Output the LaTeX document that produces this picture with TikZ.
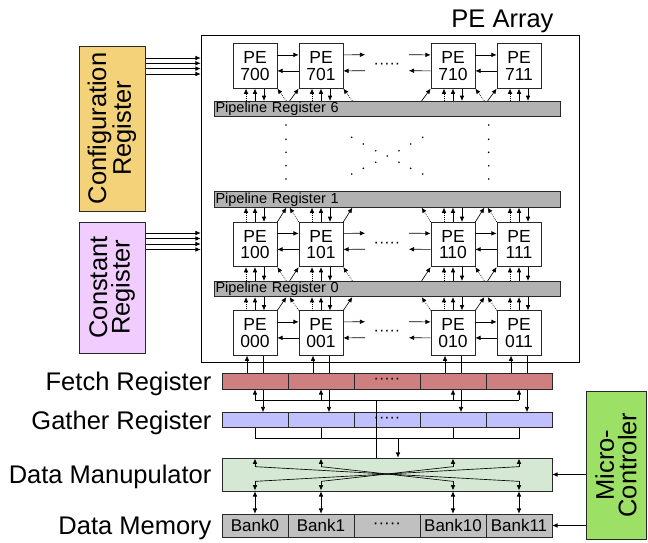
\documentclass[tikz,border=0pt]{standalone}
\usepackage{fontspec}
\setmainfont{Liberation Sans}
\usetikzlibrary{arrows.meta,backgrounds,calc}
\definecolor{cfgcol}{RGB}{243,210,122}
\definecolor{constcol}{RGB}{240,204,255}
\definecolor{fetchcol}{RGB}{207,127,127}
\definecolor{gathcol}{RGB}{192,192,255}
\definecolor{dmcol}{RGB}{213,232,212}
\definecolor{memcol}{RGB}{192,192,192}
\definecolor{pregcol}{RGB}{178,178,178}
\definecolor{microcol}{RGB}{156,224,102}
\definecolor{edge}{RGB}{40,40,40}
\begin{document}
\begin{tikzpicture}[x=1pt,y=-1pt,
  arr/.style={-{Latex[length=5.2pt,width=4.6pt]},line width=0.65pt},
  darr/.style={{Latex[length=5.2pt,width=4.6pt]}-{Latex[length=5.2pt,width=4.6pt]},line width=0.65pt},
  dotshaft/.style={dash pattern=on 0.8pt off 1.2pt},
  pe/.style={draw=edge,line width=0.7pt,fill=white,minimum width=44pt,minimum height=44.5pt,inner sep=0pt,align=center,font=\fontsize{17.5}{16.5}\selectfont},
  preg/.style={draw=edge,line width=0.7pt,fill=pregcol,minimum width=346pt,minimum height=15.5pt,inner xsep=1.5pt,inner ysep=0pt,text width=343pt,align=left,font=\fontsize{14.5}{14}\selectfont},
  cell/.style={draw=edge,line width=0.7pt,minimum width=66pt,inner sep=0pt},
  big/.style={font=\fontsize{25.5}{22.5}\selectfont},
  vbox/.style={draw=edge,line width=1pt,inner sep=0pt,align=center,rotate=90,big},
  pt/.style={inner sep=0pt,minimum size=0pt}
]
\useasboundingbox (0,0) rectangle (648,542);

% PE array frame and label
\node[draw=black,line width=0.7pt,minimum width=378pt,minimum height=327pt,inner sep=0pt] (pea) at (390,198.5) {};
\node[big,anchor=base east] (pelbl) at (557,27) {PE Array};

% side registers
\node[vbox,fill=cfgcol,minimum width=165pt,minimum height=66pt] (cfg) at (112,128.5) {Configuration\\Register};
\node[vbox,fill=constcol,minimum width=131pt,minimum height=66pt] (cst) at (112,287.5) {Constant\\Register};
\node[vbox,fill=microcol,minimum width=148pt,minimum height=60pt] (mc) at (616,465) {Micro-\\Controler};

\foreach \yy in {58,63.3,68.6,74}
  \draw[arr] (cfg.south |- 0,\yy) -- (pea.west |- 0,\yy);
\foreach \yy in {233,238.5,244,249.5}
  \draw[arr] (cst.south |- 0,\yy) -- (pea.west |- 0,\yy);

% pipeline registers
\node[preg] (reg6) at (387,109) {Pipeline Register 6};
\node[preg] (reg1) at (387,199.5) {Pipeline Register 1};
\node[preg] (reg0) at (387,289) {Pipeline Register 0};

% PE rows
\foreach \rr/\yy in {7/66,1/244.5,0/333}{
  \foreach \cc/\xx in {00/255,01/321,10/453,11/519}{
    \node[pe] (pe\rr\cc) at (\xx,\yy) {PE\\\rr\cc};
  }
  \node[pt] (da\rr) at ($(pe\rr01.north east)+(22,0)$) {};
  \node[pt] (db\rr) at ($(pe\rr10.north west)+(-22,0)$) {};
  \node[font=\fontsize{16}{16}\selectfont,inner sep=0pt] (dots\rr) at ($(pe\rr01.east)!0.5!(pe\rr10.west)$) {·····};
  \foreach \ua/\ub in {pe\rr00/pe\rr01, pe\rr10/pe\rr11, pe\rr01/da\rr, db\rr/pe\rr10}{
    \draw[arr] ($(\ua.north east)+(0,11.5)$) -- ($(\ub.north west)+(0,11.5)$);
    \draw[arr] ($(\ub.north west)+(0,27.5)$) -- ($(\ua.north east)+(0,27.5)$);
  }
}

% PE row above a register
\foreach \rr/\rg in {7/reg6,1/reg0}{
  \foreach \cc in {00,01,10,11}{
    \draw[arr,dotshaft] ($(pe\rr\cc.south |- \rg.north)+(-9,0)$) -- ($(pe\rr\cc.south)+(-9,0)$);
    \draw[arr] (pe\rr\cc.south |- \rg.north) -- (pe\rr\cc.south);
    \draw[arr] ($(pe\rr\cc.south)+(9,0)$) -- ($(pe\rr\cc.south |- \rg.north)+(9,0)$);
  }
  \foreach \ua/\ub in {00/01,01/10,10/11}{
    \draw[arr,dotshaft] ($(pe\rr\ua.south east |- \rg.north)+(9,0)$) -- (pe\rr\ua.south east);
    \draw[arr] ($(pe\rr\ub.south west |- \rg.north)+(-9,0)$) -- (pe\rr\ub.south west);
  }
}
% PE row below a register
\foreach \rr/\rg in {1/reg1,0/reg0}{
  \foreach \cc in {00,01,10,11}{
    \draw[arr,dotshaft] ($(pe\rr\cc.north)+(-9,0)$) -- ($(pe\rr\cc.north |- \rg.south)+(-9,0)$);
    \draw[arr] (pe\rr\cc.north) -- (pe\rr\cc.north |- \rg.south);
    \draw[arr] ($(pe\rr\cc.north |- \rg.south)+(9,0)$) -- ($(pe\rr\cc.north)+(9,0)$);
  }
  \foreach \ua/\ub in {00/01,01/10,10/11}{
    \draw[arr] (pe\rr\ua.north east) -- ($(pe\rr\ua.north east |- \rg.south)+(9,0)$);
    \draw[arr,dotshaft] (pe\rr\ub.north west) -- ($(pe\rr\ub.north west |- \rg.south)+(-9,0)$);
  }
}

% dots between register 6 and register 1
\foreach \p in {(286,125),(286,139.3),(286,152.3),(286,165.7),(286,179),
  (488.7,125),(488.7,139.3),(488.7,152.3),(488.7,165.7),(488.7,179),
  (351.7,137.3),(422.7,137.3),(363.3,144),(410.7,144),(375.7,150.7),(399,150.7),
  (387.3,156),(375.7,162.3),(399,162.3),(363.3,168.3),(410.7,168.3),(351.7,174),(422.7,174)}
  \fill \p circle (0.9);

% fetch / gather / memory cells
\foreach \i/\xx in {0/255,1/321,2/387,3/453,4/519}{
  \node[cell,fill=fetchcol,minimum height=16pt] (f\i) at (\xx,381) {};
  \node[cell,fill=gathcol,minimum height=15pt] (g\i) at (\xx,420) {};
}
\node[font=\fontsize{16}{16}\selectfont,inner sep=0pt] (fdots) at (f2.center) {·····};
\node[font=\fontsize{16}{16}\selectfont,inner sep=0pt] (gdots) at (g2.center) {·····};
\node[draw=edge,line width=0.7pt,fill=dmcol,minimum width=330pt,minimum height=33pt,inner sep=0pt] (dm) at (387,474.5) {};
\foreach \i/\xx/\tt in {0/255/Bank0,1/321/Bank1,2/387/·····,3/453/Bank10,4/519/Bank11}{
  \node[cell,fill=memcol,minimum height=23pt,font=\fontsize{17}{16}\selectfont] (m\i) at (\xx,525.5) {\tt};
}

% left labels
\node[big,anchor=base east] (lf) at (215,390) {Fetch Register};
\node[big,anchor=base east] (lg) at (215,429) {Gather Register};
\node[big,anchor=base east] (ld) at (215,483) {Data Manupulator};
\node[big,anchor=base east] (lm) at (215,534) {Data Memory};

% PE row 0 to fetch / gather
\begin{scope}[on background layer]
\foreach \cc/\i in {00/0,01/1,10/3,11/4}
  \draw[arr] ($(pe0\cc.south)+(8,0)$) -- ($(pe0\cc.south |- g\i.north)+(8,0)$);
\end{scope}
\foreach \cc/\i in {00/0,01/1,10/3,11/4}
  \draw[arr] ($(pe0\cc.south |- f\i.north)+(-8,0)$) -- ($(pe0\cc.south)+(-8,0)$);

% fetch bus
\coordinate (fbus) at (376,400);
\draw[line width=0.65pt] (f0.south |- fbus) -- (f4.south |- fbus);
\foreach \i in {0,1,3,4} \draw[arr] (f\i.south |- fbus) -- (f\i.south);
\draw[line width=0.65pt] (fbus) -- (fbus |- dm.north);

% gather bus
\coordinate (gbus) at (398,438);
\draw[line width=0.65pt] (g0.south) -- (g0.south |- gbus) -- (g4.south |- gbus) -- (g4.south);
\draw[line width=0.65pt] (g1.south) -- (g1.south |- gbus);
\draw[line width=0.65pt] (g3.south) -- (g3.south |- gbus);
\draw[arr] (gbus) -- (gbus |- dm.north);

% data manipulator crossbar
\coordinate (xc) at (387,474);
\foreach \i in {0,1,3,4}{
  \coordinate (dt\i) at ($(dm.north -| m\i.north)+(0,9)$);
  \coordinate (dbm\i) at ($(dm.south -| m\i.north)+(0,-10)$);
  \draw[arr] (dt\i) -- ($(dm.north -| m\i.north)+(0,1)$);
  \draw[arr] (dbm\i) -- ($(dm.south -| m\i.north)+(0,-1)$);
  \draw[line width=0.65pt] (dt\i) -- (xc);
  \draw[line width=0.65pt] (dbm\i) -- (xc);
  \draw[darr] (dm.south -| m\i.north) -- (m\i.north);
}

% micro controller
\draw[arr] (mc.north |- dm.east) -- (dm.east);
\draw[arr] (mc.north |- m4.east) -- (m4.east);
\end{tikzpicture}
\end{document}
